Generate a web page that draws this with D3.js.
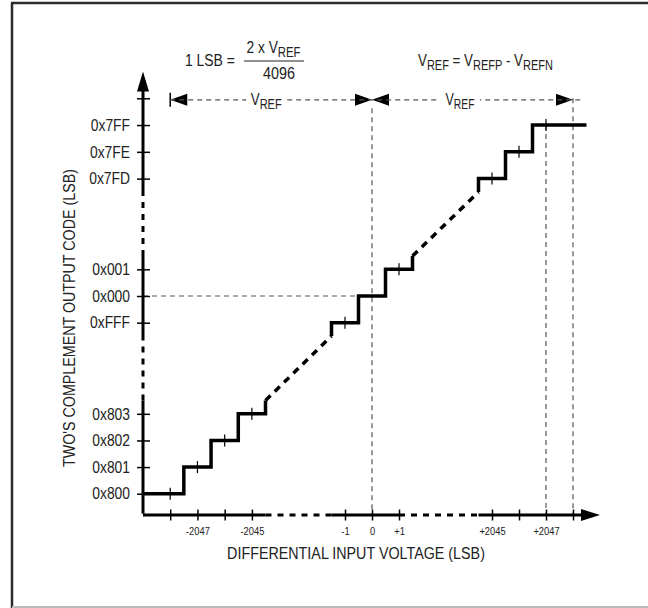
<!DOCTYPE html>
<html><head><meta charset="utf-8">
<script src="https://cdn.jsdelivr.net/npm/d3@7"></script>
<style>
html,body{margin:0;padding:0;background:#fff;}
svg text{font-family:"Liberation Sans Narrow","Liberation Sans",Arial,sans-serif;fill:#222;}
</style></head>
<body>
<svg id="chart" width="648" height="608"></svg>
<script>
// ---- data ----
const xTickValues = [-2048, -2047, -2046, -2045, -1, 0, 1, 2045, 2046, 2047, 2048];
const xTickLabels = ["", "-2047", "", "-2045", "-1", "0", "+1", "+2045", "", "+2047", ""];
const yTickValues = [-2048, -2047, -2046, -2045, -1, 0, 1, 2045, 2046, 2047, 2048];
const yTickLabels = ["0x800", "0x801", "0x802", "0x803", "0xFFF", "0x000", "0x001", "0x7FD", "0x7FE", "0x7FF", ""];
const stepGroups = [[-2048, -2047, -2046, -2045], [-1, 0, 1], [2045, 2046, 2047]];
const xBreaks = [[-2044.5, -1.75], [1, 2044.5]];
const yBreaks = [[-2044.4, -1.5], [1.5, 2044.3]];
const xTitle = "DIFFERENTIAL INPUT VOLTAGE (LSB)";
const yTitle = "TWO'S COMPLEMENT OUTPUT CODE (LSB)";

// ---- scales (broken, piecewise linear) ----
const xMin = -2049, xMax = 2049, yMin = -2048.8, yMax = 2049;
const x = d3.scaleLinear().domain([xMin, -2044.5, -1.5, 1.5, 2044.5, xMax])
  .range([143, 265.5, 331.5, 412.5, 478.5, 600]);
const y = d3.scaleLinear().domain([yMin, -2044.5, -1.5, 1.5, 2044.5, yMax])
  .range([515, 400.5, 336, 256, 192, 71.5]);

const svg = d3.select("#chart");

// horizontal condensing of text (narrow typeface look) around its anchor x
function squeeze(sel, s) {
  sel.each(function () {
    const ax = +(this.getAttribute("x") || 0);
    const prev = this.getAttribute("transform") || "";
    this.setAttribute("transform", `${prev} translate(${ax * (1 - s)},0) scale(${s},1)`);
  });
}
function fitWidth(sel, target) {
  const w = sel.node().getBBox().width;
  squeeze(sel, target / w);
}

// frame
svg.append("line").attr("x1", 12).attr("y1", 3).attr("x2", 12).attr("y2", 608).attr("stroke", "#2b2b2b").attr("stroke-width", 2.5);
svg.append("line").attr("x1", 11).attr("y1", 3).attr("x2", 648).attr("y2", 3).attr("stroke", "#2b2b2b").attr("stroke-width", 2.5);
svg.append("line").attr("x1", 12).attr("y1", 607).attr("x2", 648).attr("y2", 607).attr("stroke", "#bbb").attr("stroke-width", 2);

const guide = {stroke: "#555", "stroke-width": 1.2, "stroke-dasharray": "5,4"};
function gline(x1, y1, x2, y2) {
  const l = svg.append("line").attr("x1", x1).attr("y1", y1).attr("x2", x2).attr("y2", y2);
  Object.entries(guide).forEach(([k, v]) => l.attr(k, v));
  return l;
}
// guide lines
gline(x(0), y(2048) + 10, x(0), y(yMin));
gline(x(2048), y(2048), x(2048), y(yMin));
gline(x(2047), y(2047), x(2047), y(yMin));
gline(x(xMin), y(0), x(-0.5), y(0));

// ---- axes ----
const axisG = svg.append("g");
function brokenLine(isX, breaks, from, to) {
  let pts = [from];
  breaks.forEach(b => { pts.push(b[0]); pts.push(b[1]); });
  pts.push(to);
  for (let i = 0; i < pts.length - 1; i++) {
    const dashed = i % 2 === 1;
    const a = pts[i], b = pts[i + 1];
    const l = axisG.append("line").attr("stroke", "#000").attr("stroke-width", 3);
    if (isX) l.attr("x1", x(a)).attr("x2", x(b)).attr("y1", y(yMin)).attr("y2", y(yMin));
    else l.attr("y1", y(a)).attr("y2", y(b)).attr("x1", x(xMin)).attr("x2", x(xMin));
    if (dashed) l.attr("stroke-dasharray", "6,6");
  }
}
brokenLine(true, xBreaks, xMin, 2048.4);
brokenLine(false, yBreaks, yMin + 0.05, 2048.3);
// arrowheads
axisG.append("path").attr("d", `M${x(xMax)},${y(yMin)} L${x(xMax) - 19},${y(yMin) - 6} L${x(xMax) - 19},${y(yMin) + 6}Z`).attr("fill", "#000");
axisG.append("path").attr("d", `M${x(xMin)},${y(yMax)} L${x(xMin) - 6},${y(yMax) + 20} L${x(xMin) + 6},${y(yMax) + 20}Z`).attr("fill", "#000");

const xa = svg.append("g").attr("transform", `translate(0,${y(yMin)})`)
  .call(d3.axisBottom(x).tickValues(xTickValues).tickFormat((d, i) => xTickLabels[i]).tickSize(6).tickPadding(6));
xa.select(".domain").remove();
xa.selectAll(".tick line").attr("y1", -5.5).attr("y2", 5.5).attr("stroke", "#000").attr("stroke-width", 1.5);
xa.selectAll(".tick text").attr("font-size", 11).attr("font-family", null).style("fill", "#222");
squeeze(xa.selectAll(".tick text"), 0.85);

const ya = svg.append("g").attr("transform", `translate(${x(xMin)},0)`)
  .call(d3.axisLeft(y).tickValues(yTickValues).tickFormat((d, i) => yTickLabels[i]).tickSize(6).tickPadding(7));
ya.select(".domain").remove();
ya.selectAll(".tick line").attr("x1", 7).attr("x2", -6).attr("stroke", "#000").attr("stroke-width", 1.5);
ya.selectAll(".tick text").attr("font-size", 16.5).attr("font-family", null).style("fill", "#222");
squeeze(ya.selectAll(".tick text"), 0.84);

// ---- staircase ----
const stairs = svg.append("g");
stepGroups.forEach((codes, gi) => {
  const pts = [];
  codes.forEach((c, i) => {
    const lo = (gi === 0 && i === 0) ? xMin : c - 0.5;
    const hi = (gi === stepGroups.length - 1 && i === codes.length - 1) ? c + 1.5 : c + 0.5;
    if (i === 0 && gi > 0) pts.push([lo, c - 0.5]);
    pts.push([lo, c]);
    pts.push([hi, c]);
  });
  if (gi < stepGroups.length - 1) {
    const last = codes[codes.length - 1];
    pts.push([last + 0.5, last + 0.5]);
  }
  stairs.append("path").attr("d", d3.line().x(d => x(d[0])).y(d => y(d[1]))(pts))
    .attr("fill", "none").attr("stroke", "#000").attr("stroke-width", 3.5).attr("stroke-linejoin", "miter");
  codes.forEach(c => {
    if (c === 0) return;
    stairs.append("line").attr("x1", x(c)).attr("x2", x(c)).attr("y1", y(c) - 6).attr("y2", y(c) + 6)
      .attr("stroke", "#000").attr("stroke-width", 1.2);
  });
  if (gi < stepGroups.length - 1) {
    const a = codes[codes.length - 1] + 0.5;
    const b = stepGroups[gi + 1][0] - 0.5;
    stairs.append("line").attr("x1", x(a)).attr("y1", y(a)).attr("x2", x(b)).attr("y2", y(b))
      .attr("stroke", "#000").attr("stroke-width", 3.5).attr("stroke-dasharray", "7,6");
  }
});

// ---- VREF span arrows ----
const vy = y(2048) + 1.5;
const topG = svg.append("g");
gline(x(-2048), vy, x(2048) + 8, vy);
topG.append("line").attr("x1", x(-2048)).attr("x2", x(-2048)).attr("y1", vy - 7).attr("y2", vy + 7).attr("stroke", "#000").attr("stroke-width", 1.5);
function head(tipX, dir) {
  topG.append("path").attr("d", `M${tipX},${vy} L${tipX - dir * 17},${vy - 6} L${tipX - dir * 17},${vy + 6}Z`).attr("fill", "#000");
}
head(x(-2048), -1); head(x(0), 1); head(x(0), -1); head(x(2048), 1);

function vref(g, cx, cy, size, subSize) {
  const t = g.append("text").attr("x", cx).attr("y", cy).attr("font-size", size).attr("text-anchor", "middle");
  t.append("tspan").text("V");
  t.append("tspan").attr("font-size", subSize).attr("dy", 4).text("REF");
  return t;
}
const lblL = x(-2048) + 96, lblR = x(0) + 88;
[lblL, lblR].forEach(cx => {
  svg.append("rect").attr("x", cx - 20).attr("y", vy - 10).attr("width", 40).attr("height", 20).attr("fill", "#fff");
});
fitWidth(vref(svg, lblL, vy + 5, 17, 14), 31);
fitWidth(vref(svg, lblR, vy + 5, 17, 14), 29);

// ---- formula texts ----
fitWidth(svg.append("text").attr("x", 185).attr("y", 66).attr("font-size", 17).text("1 LSB ="), 50);
const num = svg.append("text").attr("x", 273.5).attr("y", 53).attr("font-size", 17).attr("text-anchor", "middle");
num.append("tspan").text("2 x V");
num.append("tspan").attr("font-size", 14).attr("dy", 4).text("REF");
fitWidth(num, 54);
svg.append("line").attr("x1", 244).attr("x2", 304).attr("y1", 61).attr("y2", 61).attr("stroke", "#222").attr("stroke-width", 1.2);
fitWidth(svg.append("text").attr("x", 279).attr("y", 79).attr("font-size", 17).attr("text-anchor", "middle").text("4096"), 32);

const eq = svg.append("text").attr("x", 418).attr("y", 66).attr("font-size", 17);
eq.append("tspan").text("V");
eq.append("tspan").attr("font-size", 14).attr("dy", 4).text("REF");
eq.append("tspan").attr("dy", -4).text(" = V");
eq.append("tspan").attr("font-size", 14).attr("dy", 4).text("REFP");
eq.append("tspan").attr("dy", -4).text(" - V");
eq.append("tspan").attr("font-size", 14).attr("dy", 4).text("REFN");
fitWidth(eq, 135);

// ---- axis titles ----
fitWidth(svg.append("text").attr("x", 356).attr("y", 559).attr("font-size", 17).attr("text-anchor", "middle").text(xTitle), 258);
const yt = svg.append("text").attr("transform", "translate(75,318) rotate(-90)").attr("font-size", 17).attr("text-anchor", "middle").text(yTitle);
fitWidth(yt, 298);
</script>
</body></html>
